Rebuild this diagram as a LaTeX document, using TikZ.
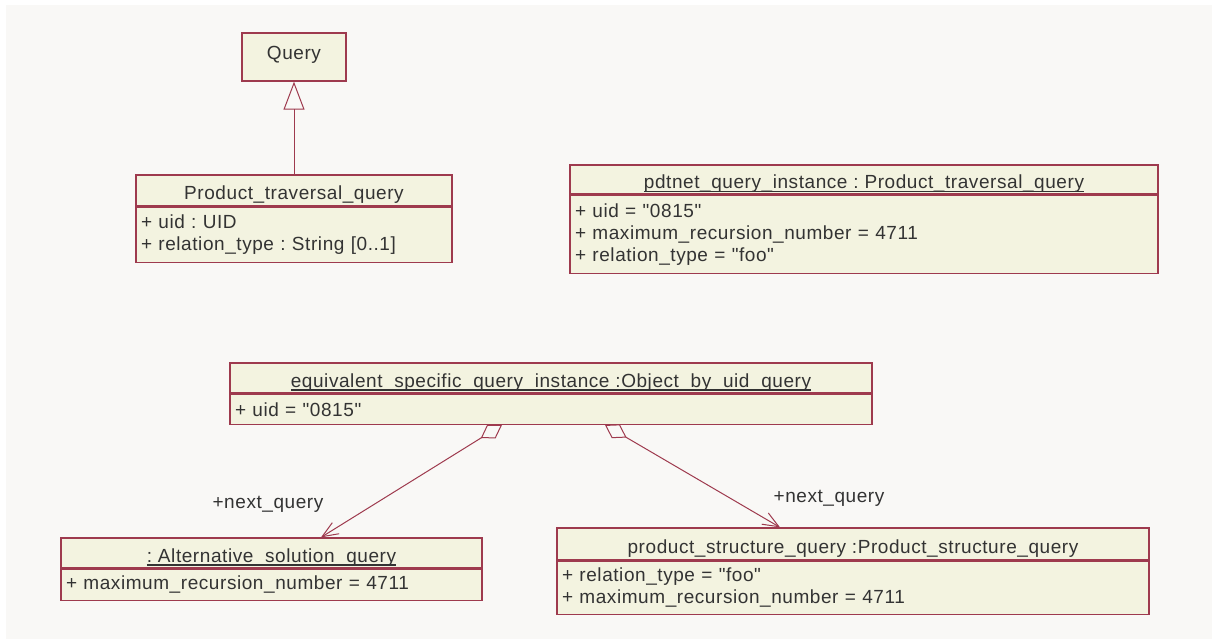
\documentclass[tikz,border=0pt]{standalone}
\usepackage{fontspec}
\setmainfont{Liberation Sans}[LetterSpace=3,Ligatures=TeXOff]
\usepackage{xcolor}
\definecolor{edge}{HTML}{9E3A4E}
\definecolor{cfill}{HTML}{F3F3E0}
\definecolor{paper}{HTML}{F9F8F6}
\definecolor{ink}{HTML}{333333}
\usetikzlibrary{arrows.meta,positioning}
\frenchspacing
\newcommand\undl[1]{\setbox0\hbox{#1}\rlap{\rule[-3.6pt]{\wd0}{1.2pt}}\box0}
\tikzset{
  cls/.style={draw=edge,fill=cfill,line width=1.3pt,inner sep=0pt,font=\fontsize{19}{22}\selectfont\color{ink}},
  hd/.style={cls,text height=19pt,text depth=1pt},
  attr/.style={cls,align=left,inner xsep=5pt,text width=#1},
  lab/.style={font=\fontsize{19}{22}\selectfont\color{ink}},
  gen/.style={-{Triangle[open,length=28pt,width=21pt]},draw=edge,line width=1pt},
  agg/.style={{Diamond[open,length=25pt,width=16pt]}-{Straight Barb[length=16pt,width=13pt]},draw=edge,line width=1pt},
}
\begin{document}
\begin{tikzpicture}[x=1pt,y=-1pt]
\useasboundingbox (0,0) rectangle (1214,639);
\fill[white] (0,0) rectangle (1214,639);
\fill[paper] (6,5) rectangle (1212,639);
% Query
\node[cls,minimum width=104pt,minimum height=48pt,text height=11pt,text depth=6pt] (query) at (294,57) {Query};
% Product_traversal_query
\node[hd,minimum width=316pt,minimum height=31pt] (ptq) at (294,190.5) {Product\_traversal\_query};
\node[attr=306pt,minimum height=55pt,below=0pt of ptq] (ptq-a) {+ uid : UID\\+ relation\_type : String [0..1]};
\draw[gen] (ptq) -- (query);
% pdtnet instance
\node[hd,minimum width=588pt,minimum height=29pt] (pdt) at (864,179.5) {\undl{pdtnet\_query\_instance : Product\_traversal\_query}};
\node[attr=578pt,minimum height=78pt,below=0pt of pdt] (pdt-a) {+ uid = "0815"\\+ maximum\_recursion\_number = 4711\\+ relation\_type = "foo"};
% equivalent instance
\node[hd,minimum width=642pt,minimum height=30pt] (equiv) at (551,378) {\undl{equivalent\_specific\_query\_instance :Object\_by\_uid\_query}};
\node[attr=632pt,minimum height=30pt,below=0pt of equiv] (equiv-a) {+ uid = "0815"};
% next queries
\node[hd,minimum width=421pt,minimum height=30pt] (alt) at (271.5,553) {\undl{: Alternative\_solution\_query}};
\node[attr=411pt,minimum height=31pt,below=0pt of alt] (alt-a) {+ maximum\_recursion\_number = 4711};
\node[hd,minimum width=592pt,minimum height=32pt] (pst) at (853,544) {product\_structure\_query :Product\_structure\_query};
\node[attr=582pt,minimum height=53pt,below=0pt of pst] (pst-a) {+ relation\_type = "foo"\\+ maximum\_recursion\_number = 4711};
\draw[agg] ([xshift=-49pt]equiv-a.south) -- ([xshift=49.5pt]alt.north) node[lab,at end,xshift=-53pt,yshift=33pt] {+next\_query};
\draw[agg] ([xshift=54pt]equiv-a.south) -- ([xshift=-73pt]pst.north) node[lab,at end,xshift=49pt,yshift=29pt] {+next\_query};
\end{tikzpicture}
\end{document}
